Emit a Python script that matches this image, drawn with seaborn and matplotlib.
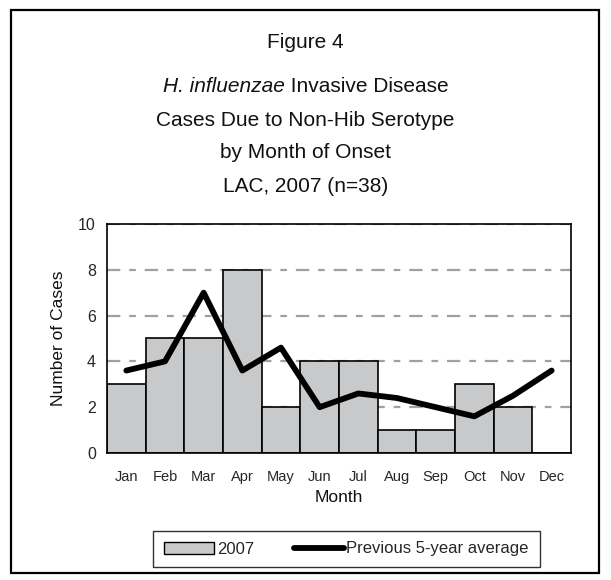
import numpy as np
import pandas as pd
import seaborn as sns
import matplotlib.pyplot as plt
from matplotlib.patches import Rectangle, Patch
from matplotlib.lines import Line2D

# Data
months = ["Jan", "Feb", "Mar", "Apr", "May", "Jun", "Jul", "Aug", "Sep", "Oct", "Nov", "Dec"]
cases_2007 = [3, 5, 5, 8, 2, 4, 4, 1, 1, 3, 2, 0]
prev_5yr_avg = [3.6, 4.0, 7.0, 3.6, 4.6, 2.0, 2.6, 2.4, 2.0, 1.6, 2.5, 3.6]

sns.set_style("white")
plt.rcParams["font.family"] = ["Liberation Sans", "DejaVu Sans"]

df = pd.DataFrame({"month": months, "cases": cases_2007, "avg": prev_5yr_avg})
df["pos"] = np.arange(len(months))

fig = plt.figure(figsize=(6.11, 5.80), dpi=100)
ax = fig.add_axes([0.1751, 0.219, 0.7594, 0.3948])

# dashed gridlines behind bars
for yv in [2, 4, 6, 8, 10]:
    ax.axhline(yv, color="#a0a0a0", lw=1.6, dashes=(6, 4, 3, 4), zorder=0)

sns.barplot(data=df, x="month", y="cases", color="#c8c9cb", width=1.0,
            edgecolor="black", linewidth=1.2, saturation=1, ax=ax, zorder=2)
sns.lineplot(data=df, x="pos", y="avg", color="black", lw=4.2, ax=ax, zorder=3)

ax.set_xlim(-0.5, 11.5)
ax.set_ylim(0, 10)
ax.set_yticks([0, 2, 4, 6, 8, 10])
ax.set_xticks(np.arange(12))
ax.set_xticklabels(months)
ax.set_xticks(np.arange(-0.5, 12, 1), minor=True)
ax.tick_params(axis="x", which="major", length=0, pad=12, labelsize=10.5)
ax.tick_params(axis="x", which="minor", length=5, width=1.2, color="black", direction="out")
ax.tick_params(axis="y", length=5, width=1.2, color="black", direction="out", labelsize=11.5, pad=3)
for s in ax.spines.values():
    s.set_color("black")
    s.set_linewidth(1.2)

ax.set_xlabel("")
ax.set_ylabel("")
fig.text(0.5548, 1 - 497 / 580, "Month", ha="center", va="center", fontsize=12.5, color="#111111")
fig.text(59 / 611, 0.4165, "Number of Cases", ha="center", va="center",
         rotation=90, fontsize=12.5, color="#111111")

# title block
tsize = 15
fig.text(0.5, 1 - 43 / 580, "Figure 4", ha="center", va="center", fontsize=tsize, color="#111111")
t_it = fig.text(0.5, 1 - 87 / 580, "H. influenzae", ha="right", va="center",
                fontsize=tsize, style="italic", color="#111111")
t_rg = fig.text(0.5, 1 - 87 / 580, " Invasive Disease", ha="left", va="center",
                fontsize=tsize, color="#111111")
renderer = fig.canvas.get_renderer()
w_it = t_it.get_window_extent(renderer).width / fig.bbox.width
w_rg = t_rg.get_window_extent(renderer).width / fig.bbox.width
split_x = 0.5 - (w_it + w_rg) / 2 + w_it
t_it.set_x(split_x)
t_rg.set_x(split_x)
fig.text(0.5, 1 - 120 / 580, "Cases Due to Non-Hib Serotype", ha="center", va="center",
         fontsize=tsize, color="#111111")
fig.text(0.5, 1 - 153 / 580, "by Month of Onset", ha="center", va="center",
         fontsize=tsize, color="#111111")
fig.text(0.5, 1 - 187 / 580, "LAC, 2007 (n=38)", ha="center", va="center",
         fontsize=tsize, color="#111111")

# legend
handles = [Patch(facecolor="#c8c9cb", edgecolor="black", linewidth=1.0, label="2007"),
           Line2D([0], [0], color="black", lw=4.2, label="Previous 5-year average")]
leg = fig.legend(handles=handles, loc="center", bbox_to_anchor=(346.5 / 611, 1 - 549 / 580),
                 ncol=2, frameon=True, fancybox=False, fontsize=12, handlelength=3.0,
                 handletextpad=0.15, columnspacing=2.4, borderpad=0.65, borderaxespad=0)
leg.get_frame().set_edgecolor("black")
leg.get_frame().set_linewidth(1.0)

# outer border
fig.patches.append(Rectangle((11 / 611, 0.012), 588 / 611, 0.971, transform=fig.transFigure,
                             fill=False, edgecolor="black", lw=1.6))

fig.savefig("out.png", dpi=100)
